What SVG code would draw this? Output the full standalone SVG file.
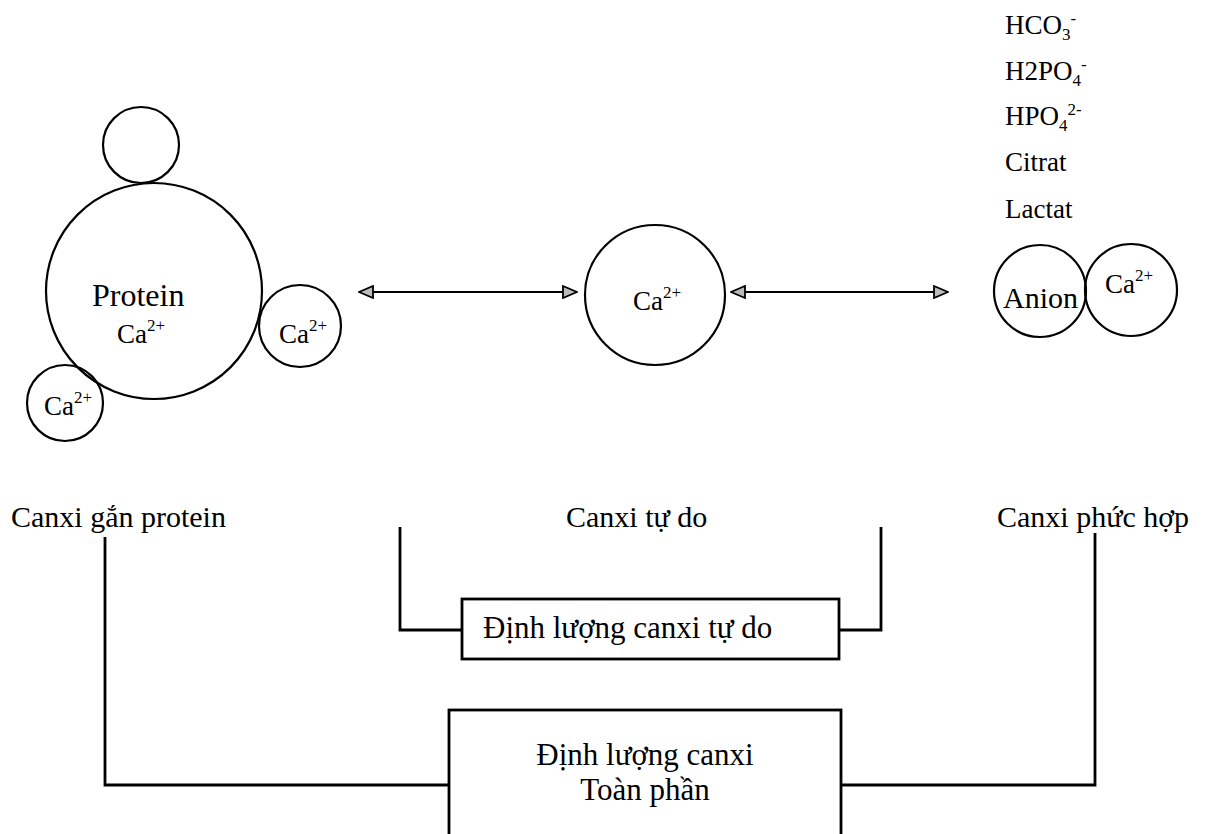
<svg xmlns="http://www.w3.org/2000/svg" width="1207" height="834" viewBox="0 0 1207 834">
<style>
  text { font-family: "Liberation Serif", "Times New Roman", serif; fill: #000; }
  .ca { font-size: 27px; }
  .lbl { font-size: 30px; }
  .box { font-size: 31px; }
  .ion { font-size: 27px; }
  .sm { font-size: 17px; }
  .circ { fill: none; stroke: #000; stroke-width: 2.2; }
  .wire { fill: none; stroke: #000; stroke-width: 2.8; }
  .arr { fill: none; stroke: #000; stroke-width: 2; }
  .rect { fill: #fff; stroke: #000; stroke-width: 2.8; }
</style>
<defs>
  <marker id="ah" viewBox="0 0 16 14" refX="15" refY="7" markerWidth="16" markerHeight="14" markerUnits="userSpaceOnUse" orient="auto-start-reverse">
    <path d="M1,1 L15,7 L1,13 Z" fill="#bbb" stroke="#000" stroke-width="1.8"/>
  </marker>
</defs>
<rect width="1207" height="834" fill="#fff"/>

<g id="protein">
  <circle class="circ" cx="141" cy="145" r="38"/>
  <circle class="circ" cx="154" cy="291" r="108"/>
  <text x="92" y="306" style="font-size:32px">Protein</text>
  <text class="ca" x="117" y="343">Ca<tspan class="sm" dy="-12">2+</tspan></text>
</g>
<g id="ca-right">
  <circle class="circ" cx="300" cy="326" r="41"/>
  <text class="ca" x="279" y="343">Ca<tspan class="sm" dy="-12">2+</tspan></text>
</g>
<g id="ca-bottom">
  <circle class="circ" cx="65" cy="403" r="38"/>
  <text class="ca" x="44" y="415">Ca<tspan class="sm" dy="-12">2+</tspan></text>
</g>

<g id="ca-free">
  <circle class="circ" cx="655" cy="295" r="70"/>
  <text class="ca" x="633" y="310">Ca<tspan class="sm" dy="-12">2+</tspan></text>
</g>

<g id="anions">
  <text class="ion" x="1005" y="34">HCO<tspan class="sm" dy="6">3</tspan><tspan class="sm" dy="-16">-</tspan></text>
  <text class="ion" x="1005" y="80">H2PO<tspan class="sm" dy="6">4</tspan><tspan class="sm" dy="-16">-</tspan></text>
  <text class="ion" x="1005" y="125">HPO<tspan class="sm" dy="6">4</tspan><tspan class="sm" dy="-16">2-</tspan></text>
  <text class="ion" x="1005" y="171">Citrat</text>
  <text class="ion" x="1005" y="218">Lactat</text>
</g>

<g id="complex">
  <circle class="circ" cx="1040" cy="291" r="46"/>
  <circle class="circ" cx="1131" cy="290" r="46"/>
  <text x="1003" y="308" style="font-size:30px">Anion</text>
  <text class="ca" x="1105" y="293">Ca<tspan class="sm" dy="-12">2+</tspan></text>
</g>

<g id="labels">
  <text class="lbl" x="11" y="527">Canxi gắn protein</text>
  <text class="lbl" x="566" y="527">Canxi tự do</text>
  <text class="lbl" x="997" y="527">Canxi phức hợp</text>
</g>

<g id="free-measure">
  <rect class="rect" x="462" y="599" width="377" height="60"/>
  <text class="box" x="483" y="638">Định lượng canxi tự do</text>
</g>

<g id="total-measure">
  <rect class="rect" x="449" y="710" width="392" height="140"/>
  <text class="box" x="645" y="765" text-anchor="middle">Định lượng canxi</text>
  <text class="box" x="645" y="800" text-anchor="middle">Toàn phần</text>
</g>

<g id="connectors">
  <line class="arr" x1="359" y1="292" x2="577" y2="292" marker-start="url(#ah)" marker-end="url(#ah)"/>
  <line class="arr" x1="731" y1="292" x2="948" y2="292" marker-start="url(#ah)" marker-end="url(#ah)"/>
  <polyline class="wire" points="400,527 400,630 462,630"/>
  <polyline class="wire" points="881,527 881,630 839,630"/>
  <polyline class="wire" points="105,537 105,785 449,785"/>
  <polyline class="wire" points="1095,533 1095,785 841,785"/>
</g>
</svg>
